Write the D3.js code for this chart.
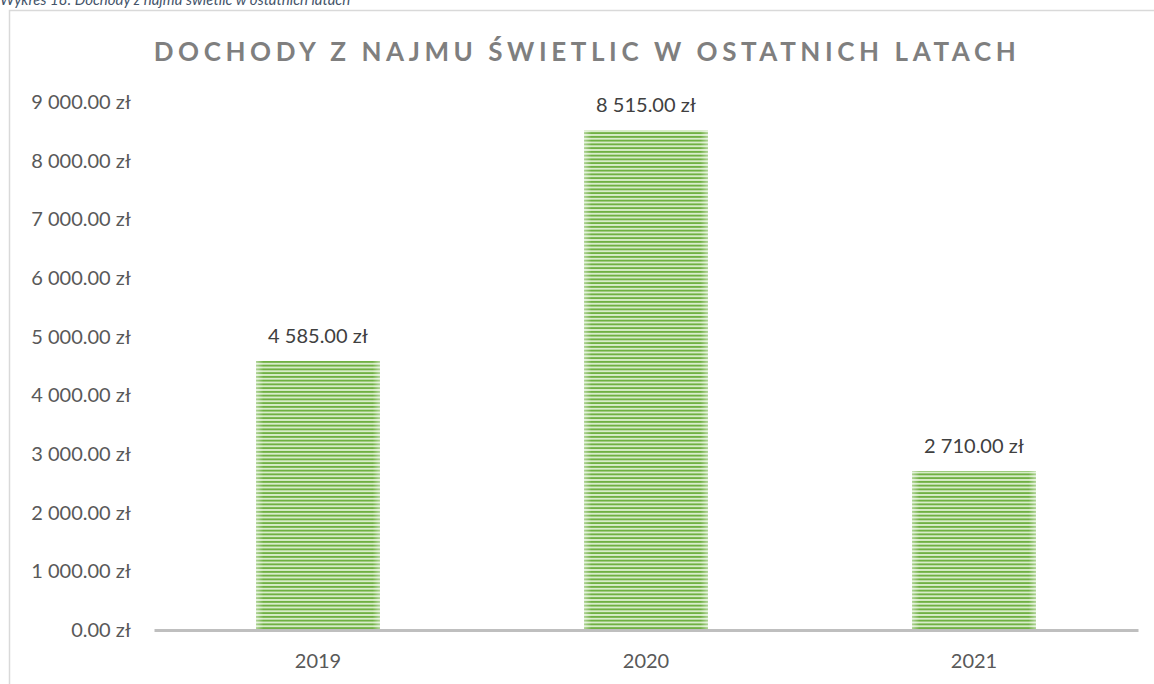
<!DOCTYPE html>
<html>
<head>
<meta charset="utf-8">
<script src="https://cdn.jsdelivr.net/npm/d3@7"></script>
<style>
  body { margin: 0; background: #fff; }
  svg { display: block; font-family: Lato, "Open Sans", sans-serif; }
</style>
</head>
<body>
<svg id="chart" width="1154" height="684"></svg>
<script>
// data
const years = ["2019", "2020", "2021"];
const income = [4585, 8515, 2710];
const yTicks = [0, 1000, 2000, 3000, 4000, 5000, 6000, 7000, 8000, 9000];
const chartTitle = "DOCHODY Z NAJMU ŚWIETLIC W OSTATNICH LATACH";
const caption = "Wykres 18: Dochody z najmu świetlic w ostatnich latach";

const width = 1154, height = 684;
const plot = {left: 154, right: 1138, top: 102, bottom: 630};
const labelSize = 20;

const pl = d3.formatLocale({decimal: ".", thousands: " ", grouping: [3], currency: ["", " zł"]});
const money = pl.format(",.2f");
const fmt = d => money(d) + " zł";

const svg = d3.select("#chart");

// stripes for the bars
const defs = svg.append("defs");
const pat = defs.append("pattern")
    .attr("id", "stripes")
    .attr("patternUnits", "userSpaceOnUse")
    .attr("width", 8).attr("height", 3.75);
pat.append("rect").attr("width", 8).attr("height", 3.75).attr("fill", "#d9eecc");
pat.append("rect").attr("y", 0.9).attr("width", 8).attr("height", 1.9).attr("fill", "#6fb042");

const edge = defs.append("linearGradient").attr("id", "edge");
edge.append("stop").attr("offset", "0%").attr("stop-color", "#fff").attr("stop-opacity", 0.45);
edge.append("stop").attr("offset", "6%").attr("stop-color", "#fff").attr("stop-opacity", 0);
edge.append("stop").attr("offset", "94%").attr("stop-color", "#fff").attr("stop-opacity", 0);
edge.append("stop").attr("offset", "100%").attr("stop-color", "#fff").attr("stop-opacity", 0.45);

// caption above the box (cut off at the top, like in the source)
svg.append("text")
    .attr("x", 0).attr("y", 5)
    .attr("font-size", 15)
    .attr("font-style", "italic")
    .attr("fill", "#44546a")
    .text(caption);

// chart border
svg.append("path")
    .attr("d", `M9.5,${height} V10.5 H${width}`)
    .attr("fill", "none")
    .attr("stroke", "#d9d9d9")
    .attr("stroke-width", 1.5);

const x = d3.scaleBand()
    .domain(years)
    .range([plot.left, plot.right])
    .paddingInner(0.622)
    .paddingOuter(0.311);

const y = d3.scaleLinear()
    .domain([0, 9000])
    .range([plot.bottom, plot.top]);

// title
const title = svg.append("text")
    .attr("x", 587).attr("y", 61)
    .attr("text-anchor", "middle")
    .attr("font-size", 26)
    .attr("font-weight", "bold")
    .attr("fill", "#7f7f7f")
    .text(chartTitle);
// spread letters to the width seen in the picture
const targetW = 862;
const natural = title.node().getComputedTextLength();
title.attr("letter-spacing", (targetW - natural) / (chartTitle.length - 1) + "px");

// y axis labels
const yAxis = d3.axisLeft(y).tickValues(yTicks).tickFormat(fmt).tickSize(0).tickPadding(23);
const gY = svg.append("g").attr("transform", `translate(${plot.left},0)`).call(yAxis);
gY.select(".domain").remove();
gY.selectAll("text")
    .attr("font-family", "Lato, 'Open Sans', sans-serif")
    .attr("font-size", labelSize)
    .attr("fill", "#595959");

// bars
svg.append("g").selectAll("rect.bar")
    .data(income)
    .join("rect")
    .attr("class", "bar")
    .attr("x", (d, i) => x(years[i]))
    .attr("y", d => y(d))
    .attr("width", x.bandwidth())
    .attr("height", d => y(0) - y(d))
    .attr("fill", "url(#stripes)");
svg.append("g").selectAll("rect.edge")
    .data(income)
    .join("rect")
    .attr("class", "edge")
    .attr("x", (d, i) => x(years[i]))
    .attr("y", d => y(d))
    .attr("width", x.bandwidth())
    .attr("height", d => y(0) - y(d))
    .attr("fill", "url(#edge)");

// value labels
svg.append("g").selectAll("text")
    .data(income)
    .join("text")
    .attr("x", (d, i) => x(years[i]) + x.bandwidth() / 2)
    .attr("y", d => y(d) - 18)
    .attr("text-anchor", "middle")
    .attr("font-size", labelSize)
    .attr("fill", "#404040")
    .text(fmt);

// x axis
const xAxis = d3.axisBottom(x).tickSize(0).tickPadding(24);
const gX = svg.append("g").attr("transform", `translate(0,${plot.bottom})`).call(xAxis);
gX.select(".domain")
    .attr("stroke", "#bfbfbf")
    .attr("stroke-width", 3);
gX.selectAll("text")
    .attr("font-family", "Lato, 'Open Sans', sans-serif")
    .attr("font-size", labelSize)
    .attr("fill", "#595959");
</script>
</body>
</html>
